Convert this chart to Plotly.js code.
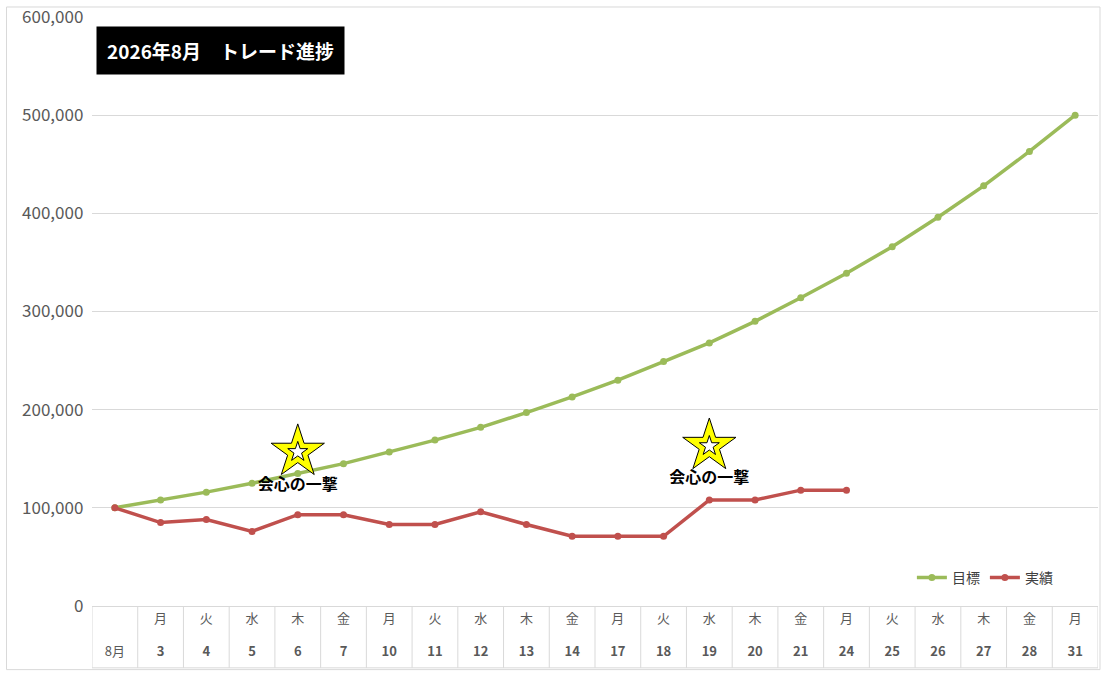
<!DOCTYPE html>
<html><head><meta charset="utf-8">
<script src="https://cdn.plot.ly/plotly-3.0.1.min.js"></script>
<style>body{margin:0;background:#fff}#c{width:1106px;height:673px}</style>
</head><body><div id="c"></div>
<script>
const days = ["8月","3","4","5","6","7","10","11","12","13","14","17","18","19","20","21","24","25","26","27","28","31"];
const weekdays = ["","月","火","水","木","金","月","火","水","木","金","月","火","水","木","金","月","火","水","木","金","月"];
const target = [100000,108000,116000,125000,135000,145000,157000,169000,182000,197000,213000,230000,249000,268000,290000,314000,339000,366000,396000,428000,463000,500000];
const actual = [100000,85000,88000,76000,93000,93000,83000,83000,96000,83000,71000,71000,71000,108000,108000,118000,118000];
const hitIdx = [4,13];
const hitY = [157000,163000];
const hitLabelY = [122000,129000];

const cats = days.map((d,i)=>i);
const ticktext = days.map((d,i)=> i===0 ? '<br><br>8月' : weekdays[i]+'<br><br><b>'+d+'</b>');

const traces = [
 {x:cats,y:target,name:'目標',mode:'lines+markers',line:{color:'#9BBB59',width:3.5},marker:{size:7,color:'#9BBB59'}},
 {x:cats.slice(0,actual.length),y:actual,name:'実績',mode:'lines+markers',line:{color:'#C0504D',width:3.5},marker:{size:7,color:'#C0504D'}},
 {x:hitIdx,y:hitY,mode:'markers',showlegend:false,hoverinfo:'skip',
  marker:{symbol:'star',size:40,color:'#FFFF00',line:{color:'#000',width:1}}},
 {x:hitIdx,y:hitY,mode:'markers',showlegend:false,hoverinfo:'skip',
  marker:{symbol:'star',size:15,color:'#FFFFFF',line:{color:'#000',width:1}}},
 {x:hitIdx,y:hitLabelY,mode:'text',text:['<b>会心の一撃</b>','<b>会心の一撃</b>'],showlegend:false,hoverinfo:'skip',
  textfont:{size:16,color:'#000',family:'Noto Sans CJK JP'}}
];

const shapes = [];
for(let i=0;i<=days.length;i++){
  shapes.push({type:'line',xref:'x',yref:'paper',x0:i-0.5,x1:i-0.5,y0:-0.105,y1:0,line:{color:'#D9D9D9',width:1}});
}
shapes.push({type:'line',xref:'paper',yref:'paper',x0:0,x1:1,y0:-0.105,y1:-0.105,line:{color:'#D9D9D9',width:1}});

const layout = {
 width:1106,height:673,paper_bgcolor:'#fff',plot_bgcolor:'#fff',
 margin:{l:92,r:8,t:17,b:67},
 font:{family:'Noto Sans CJK JP, Noto Sans',color:'#595959'},
 xaxis:{type:'linear',range:[-0.5,days.length-0.5],tickmode:'array',tickvals:cats,ticktext:ticktext,
   showgrid:false,zeroline:false,showline:true,linecolor:'#D9D9D9',ticks:'',tickfont:{size:13,color:'#595959'},fixedrange:true},
 yaxis:{range:[0,600000],dtick:100000,tickformat:',d',gridcolor:'#D9D9D9',zeroline:false,showline:false,
   tickfont:{size:17,color:'#595959'},ticks:'',ticksuffix:'  '},
 legend:{orientation:'h',x:0.815,y:0.075,xanchor:'left',font:{size:14,color:'#404040'},bgcolor:'rgba(0,0,0,0)'},
 shapes:shapes.concat([{type:'rect',xref:'paper',yref:'paper',x0:-0.085,x1:1.002,y0:-0.108,y1:1.017,line:{color:'#D9D9D9',width:1},layer:'below'}]),
 annotations:[{xref:'paper',yref:'paper',x:0.004,y:0.985,xanchor:'left',yanchor:'top',showarrow:false,
   text:'<b>2026年8月　トレード進捗</b>',bgcolor:'#000',font:{color:'#fff',size:19},borderpad:10}]
};
Plotly.newPlot('c',traces,layout,{displayModeBar:false,staticPlot:true});
</script></body></html>
